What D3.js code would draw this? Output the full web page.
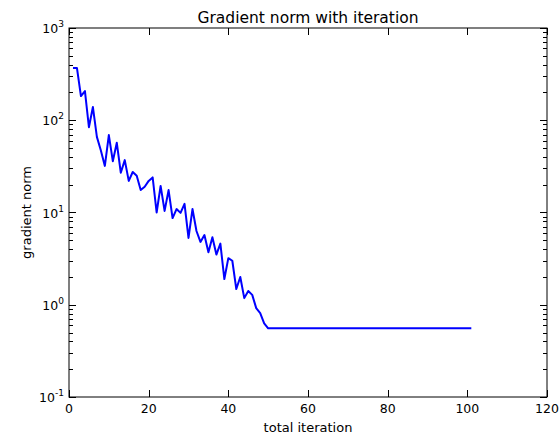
<!DOCTYPE html>
<html>
<head>
<meta charset="utf-8">
<script src="https://cdn.jsdelivr.net/npm/d3@7"></script>
<style>
  body { margin: 0; background: #fff; }
  text { font-family: "DejaVu Sans", sans-serif; fill: #000; }
</style>
</head>
<body>
<div id="chart"></div>
<script>
// iteration number and gradient norm
var iterations = [1, 2, 3, 4, 5, 6, 7, 8, 9, 10,
    11, 12, 13, 14, 15, 16, 17, 18, 19, 20,
    21, 22, 23, 24, 25, 26, 27, 28, 29, 30,
    31, 32, 33, 34, 35, 36, 37, 38, 39, 40,
    41, 42, 43, 44, 45, 46, 47, 48, 49, 50, 101];
var gradNorm = [368, 368, 183, 207, 84, 139, 66, 47, 32, 69,
    36, 57, 27, 37, 22, 27.5, 25, 17.5, 19, 22,
    24, 10, 19.4, 10.4, 17.5, 8.7, 10.9, 9.9, 12.4, 5.3,
    10.9, 6.3, 4.8, 5.7, 3.7, 5.4, 3.5, 4.6, 1.9, 3.2,
    3.0, 1.48, 2.0, 1.18, 1.41, 1.28, 0.92, 0.81, 0.63, 0.555, 0.555];
var xTicks = [0, 20, 40, 60, 80, 100, 120];
var yExponents = [-1, 0, 1, 2, 3];

var width = 560, height = 436;
var margin = {left: 69, right: 13, top: 28, bottom: 39};

var svg = d3.select("#chart").append("svg")
    .attr("width", width)
    .attr("height", height);

var x = d3.scaleLinear().domain([0, 120]).range([margin.left, width - margin.right]);
var y = d3.scaleLog().domain([0.1, 1000]).range([height - margin.bottom, margin.top]);

// minor log ticks
var minor = [];
yExponents.slice(0, -1).forEach(function (e) {
    for (var k = 2; k <= 9; k++) minor.push(k * Math.pow(10, e));
});

var ticks = svg.append("g").attr("stroke", "#000").attr("stroke-width", 1);
xTicks.forEach(function (t) {
    var px = Math.round(x(t)) + 0.5;
    ticks.append("line").attr("x1", px).attr("x2", px)
        .attr("y1", y(0.1)).attr("y2", y(0.1) - 7);
    ticks.append("line").attr("x1", px).attr("x2", px)
        .attr("y1", y(1000)).attr("y2", y(1000) + 7);
});
yExponents.forEach(function (e) {
    var py = Math.round(y(Math.pow(10, e))) + 0.5;
    ticks.append("line").attr("x1", x(0)).attr("x2", x(0) + 7).attr("y1", py).attr("y2", py);
    ticks.append("line").attr("x1", x(120)).attr("x2", x(120) - 7).attr("y1", py).attr("y2", py);
});
minor.forEach(function (v) {
    var py = Math.round(y(v)) + 0.5;
    ticks.append("line").attr("x1", x(0)).attr("x2", x(0) + 4).attr("y1", py).attr("y2", py);
    ticks.append("line").attr("x1", x(120)).attr("x2", x(120) - 4).attr("y1", py).attr("y2", py);
});

// data line
var line = d3.line()
    .x(function (d, i) { return x(iterations[i]); })
    .y(function (d) { return y(d); });

svg.append("path")
    .datum(gradNorm)
    .attr("d", line)
    .attr("fill", "none")
    .attr("stroke", "#0000ff")
    .attr("stroke-width", 2)
    .attr("stroke-linejoin", "round");

// frame
svg.append("rect")
    .attr("x", x(0)).attr("y", y(1000))
    .attr("width", x(120) - x(0)).attr("height", y(0.1) - y(1000))
    .attr("fill", "none").attr("stroke", "#000").attr("stroke-width", 1);

// tick labels
svg.selectAll(".xlab").data(xTicks).enter().append("text")
    .attr("x", function (d) { return x(d); })
    .attr("y", height - margin.bottom + 16)
    .attr("text-anchor", "middle")
    .style("font-size", "12.5px")
    .text(function (d) { return d; });

var ylab = svg.selectAll(".ylab").data(yExponents).enter().append("text")
    .attr("x", margin.left - 5)
    .attr("y", function (d) { return y(Math.pow(10, d)) + 5; })
    .attr("text-anchor", "end")
    .style("font-size", "12.5px");
ylab.append("tspan").text("10");
ylab.append("tspan")
    .attr("dy", -6)
    .style("font-size", "9px")
    .text(function (d) { return d; });

// titles
svg.append("text")
    .attr("x", (x(0) + x(120)) / 2)
    .attr("y", 23)
    .attr("text-anchor", "middle")
    .style("font-size", "15.5px")
    .text("Gradient norm with iteration");

svg.append("text")
    .attr("x", (x(0) + x(120)) / 2)
    .attr("y", 432)
    .attr("text-anchor", "middle")
    .style("font-size", "13px")
    .text("total iteration");

svg.append("text")
    .attr("transform", "translate(31," + (y(0.1) + y(1000)) / 2 + ") rotate(-90)")
    .attr("text-anchor", "middle")
    .style("font-size", "13px")
    .text("gradient norm");
</script>
</body>
</html>
